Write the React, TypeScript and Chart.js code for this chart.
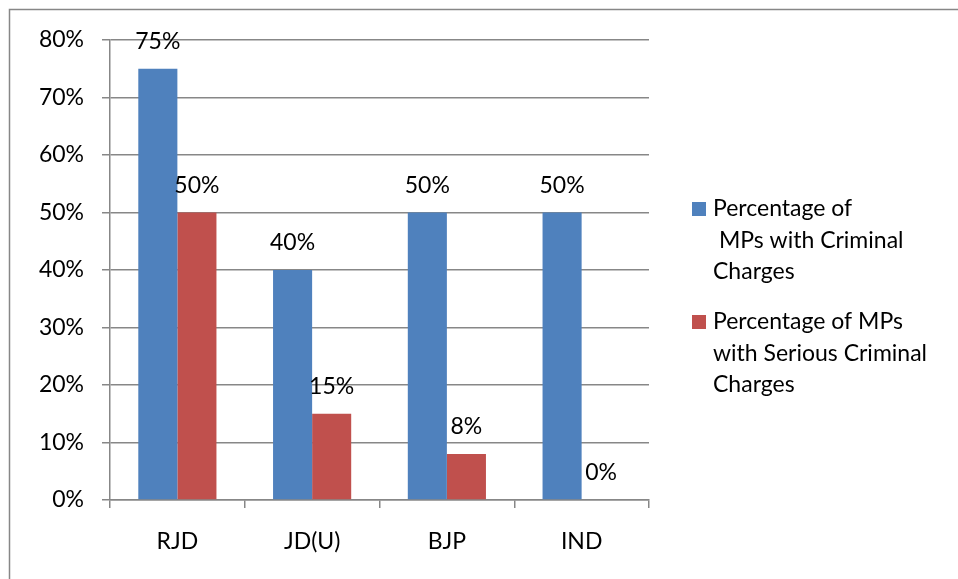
import React, { useEffect, useRef } from "react";
import { Chart, registerables } from "chart.js";

Chart.register(...registerables);

const categories = ["RJD", "JD(U)", "BJP", "IND"];
const criminalValues = [75, 40, 50, 50];
const seriousValues = [50, 15, 8, 0];
const seriesNames = [
  ["Percentage of", " MPs with Criminal", "Charges"],
  ["Percentage of MPs", "with Serious Criminal", "Charges"],
];
const seriesColors = ["#4F81BD", "#C0504D"];

const FONT = "Lato, 'Open Sans', sans-serif";
const FS = 23;

const frame = {
  id: "frame",
  beforeDraw(chart: any) {
    const ctx = chart.ctx;
    ctx.save();
    ctx.fillStyle = "#ffffff";
    ctx.fillRect(0, 0, chart.width, chart.height);
    ctx.strokeStyle = "#878787";
    ctx.lineWidth = 1.5;
    ctx.beginPath();
    ctx.moveTo(9.5, chart.height);
    ctx.lineTo(9.5, 9.5);
    ctx.lineTo(chart.width, 9.5);
    ctx.stroke();
    ctx.restore();
  },
};

const valueLabels = {
  id: "valueLabels",
  afterDatasetsDraw(chart: any) {
    const ctx = chart.ctx;
    ctx.save();
    ctx.font = `${FS}px ${FONT}`;
    ctx.fillStyle = "#000";
    ctx.textAlign = "center";
    ctx.textBaseline = "middle";
    chart.data.datasets.forEach((ds: any, di: number) => {
      const meta = chart.getDatasetMeta(di);
      meta.data.forEach((el: any, i: number) => {
        ctx.fillText(ds.data[i] + "%", el.x, el.y - 27);
      });
    });
    ctx.restore();
  },
};

const sideLegend = {
  id: "sideLegend",
  afterDraw(chart: any) {
    const ctx = chart.ctx;
    ctx.save();
    ctx.font = `${FS}px ${FONT}`;
    ctx.fillStyle = "#000";
    ctx.textAlign = "left";
    ctx.textBaseline = "middle";
    const starts = [209, 322];
    const lh = 31.5;
    seriesNames.forEach((lines, si) => {
      const y0 = starts[si];
      ctx.fillStyle = seriesColors[si];
      ctx.fillRect(692, y0 - 7, 14, 14);
      ctx.fillStyle = "#000";
      lines.forEach((t, li) => {
        ctx.fillText(t, 713, y0 + li * lh);
      });
    });
    ctx.restore();
  },
};

export default function App() {
  const ref = useRef<HTMLCanvasElement | null>(null);
  useEffect(() => {
    if (!ref.current) return;
    const chart = new Chart(ref.current, {
      type: "bar",
      data: {
        labels: categories,
        datasets: [
          {
            label: seriesNames[0].join(" "),
            data: criminalValues,
            backgroundColor: seriesColors[0],
            barPercentage: 1,
            categoryPercentage: 0.58,
          },
          {
            label: seriesNames[1].join(" "),
            data: seriousValues,
            backgroundColor: seriesColors[1],
            barPercentage: 1,
            categoryPercentage: 0.58,
          },
        ],
      },
      options: {
        animation: false,
        responsive: false,
        devicePixelRatio: 1,
        layout: { padding: { left: 0, right: 309, top: 40, bottom: 0 } },
        plugins: {
          legend: { display: false },
          tooltip: { enabled: false },
        },
        scales: {
          x: {
            grid: {
              offset: true,
              drawOnChartArea: false,
              drawTicks: true,
              tickLength: 8,
              color: "#878787",
              lineWidth: 1.5,
            },
            border: { color: "#878787", width: 1.5 },
            ticks: {
              color: "#000",
              font: { family: FONT, size: FS },
              padding: 20,
              maxRotation: 0,
            },
            afterFit(scale: any) {
              scale.height = 79;
            },
          },
          y: {
            min: 0,
            max: 80,
            grid: {
              color: "#878787",
              lineWidth: 1.5,
              tickLength: 8,
            },
            border: { color: "#878787", width: 1.5 },
            ticks: {
              stepSize: 10,
              color: "#000",
              font: { family: FONT, size: FS },
              padding: 18,
              callback: (v: any) => v + "%",
            },
            afterFit(scale: any) {
              scale.width = 110;
            },
          },
        },
      },
      plugins: [frame, valueLabels, sideLegend],
    });
    return () => chart.destroy();
  }, []);
  return (
    <div style={{ position: "fixed", left: 0, top: 0, width: 958, height: 579 }}>
      <canvas ref={ref} width={958} height={579} style={{ width: 958, height: 579 }} />
    </div>
  );
}
